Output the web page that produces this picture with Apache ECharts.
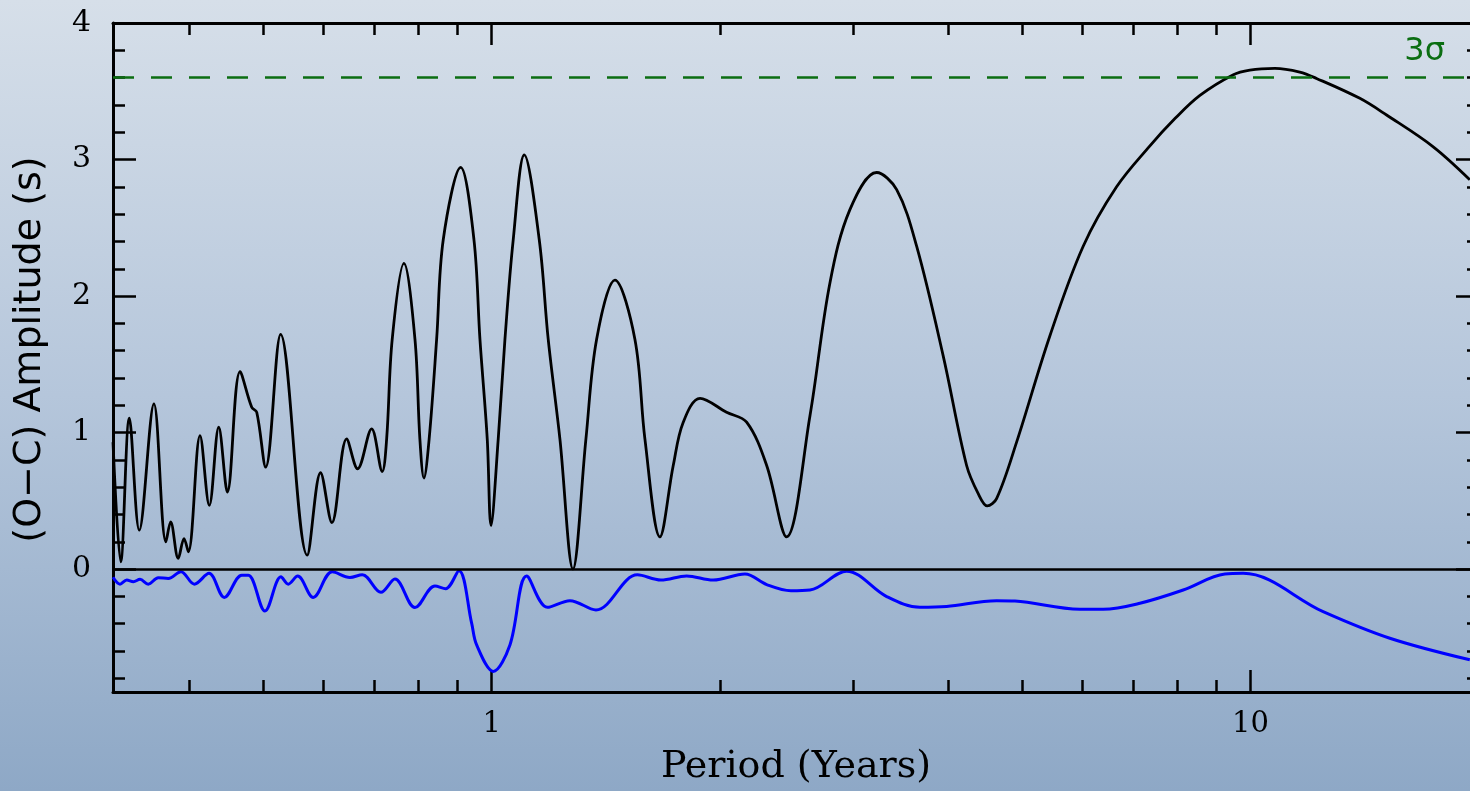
<!DOCTYPE html>
<html>
<head>
<meta charset="utf-8">
<script src="https://cdn.jsdelivr.net/npm/echarts@6/dist/echarts.min.js"></script>
<style>
  html, body { margin: 0; padding: 0; overflow: hidden; }
  /* the frame's right edge sits just past the visible window */
  #chart { width: 1482px; height: 791px; }
</style>
</head>
<body>
<div id="chart"></div>
<script>
// Periodogram of the O-C residuals: amplitude versus trial period (log scale)
const periodMain = [
  0.317, 0.3245, 0.3331, 0.3433, 0.3589, 0.3722, 0.3776, 0.3864, 0.3932, 0.3984,
  0.4128, 0.4246, 0.4369, 0.4485, 0.4661, 0.4829, 0.4903, 0.5038, 0.5272, 0.5714,
  0.5951, 0.6159, 0.6441, 0.6659, 0.6948, 0.7175, 0.7272, 0.7396, 0.7663, 0.7924,
  0.8043, 0.8143, 0.8273, 0.8463, 0.8635, 0.9103, 0.9477, 0.9651, 0.9867, 0.998,
  1.0202, 1.0412, 1.0677, 1.104, 1.1553, 1.1872, 1.2301, 1.2797, 1.3312, 1.3751,
  1.4537, 1.5444, 1.592, 1.666, 1.7349, 1.7884, 1.8818, 2.0397, 2.1677, 2.3036,
  2.447, 2.627, 2.7913, 2.9653, 3.2158, 3.4174, 3.6308, 3.9355, 4.2254, 4.3768,
  4.4979, 4.6275, 4.9174, 5.4392, 6.0186, 6.6602, 7.3688, 7.95, 8.5759, 9.4775, 9.979,
  10.765, 11.61, 12.216, 13.932, 15.109, 17.39, 19.45
];
const ampMain = [
  0.93, 0.054, 1.105, 0.285, 1.21, 0.20, 0.346, 0.078, 0.224, 0.127,
  0.978, 0.467, 1.039, 0.565, 1.447, 1.185, 1.149, 0.747, 1.72, 0.102,
  0.706, 0.341, 0.954, 0.735, 1.027, 0.715, 0.954, 1.684, 2.239, 1.684,
  0.954, 0.667, 0.954, 1.684, 2.414, 2.942, 2.414, 1.684, 0.954, 0.32,
  0.954, 1.684, 2.414, 3.034, 2.414, 1.684, 0.954, 0.0, 0.954, 1.684,
  2.117, 1.684, 0.954, 0.236, 0.759, 1.076, 1.251, 1.149, 1.076, 0.759,
  0.236, 1.124, 2.098, 2.633, 2.905, 2.779, 2.365, 1.562, 0.759, 0.553,
  0.463, 0.516, 0.93, 1.708, 2.365, 2.80, 3.10, 3.30, 3.47, 3.62, 3.655,
  3.667, 3.64, 3.594, 3.448, 3.326, 3.095, 2.852
];

// Residual periodogram, plotted downward below zero
const periodResid = [
  0.317, 0.3238, 0.3305, 0.3372, 0.3441, 0.3528, 0.3637, 0.3749, 0.3896, 0.4057,
  0.4242, 0.4444, 0.4685, 0.478, 0.5027, 0.5277, 0.5395, 0.5551, 0.5819, 0.6165,
  0.6505, 0.6753, 0.7147, 0.7457, 0.7924, 0.8419, 0.8697, 0.9056, 0.9411, 0.9555,
  1.0049, 1.0571, 1.112, 1.1843, 1.268, 1.3722, 1.5562, 1.6712, 1.8068, 1.9585,
  2.1566, 2.3036, 2.4796, 2.627, 2.9358, 3.3153, 3.6673, 3.9763, 4.6275, 4.8921,
  5.9587, 6.3937, 7.1488, 8.1524, 9.2501, 9.778, 12.463, 15.261, 19.45
];
const ampResid = [
  -0.06, -0.11, -0.08, -0.092, -0.075, -0.11, -0.063, -0.068, -0.019, -0.11,
  -0.031, -0.207, -0.044, -0.044, -0.307, -0.056, -0.11, -0.051, -0.207, -0.019,
  -0.061, -0.041, -0.17, -0.073, -0.282, -0.124, -0.143, -0.012, -0.396, -0.555,
  -0.749, -0.555, -0.051, -0.28, -0.231, -0.299, -0.042, -0.08, -0.05, -0.08,
  -0.036, -0.113, -0.158, -0.153, -0.015, -0.201, -0.28, -0.274, -0.231, -0.234,
  -0.294, -0.294, -0.25, -0.153, -0.036, -0.031, -0.311, -0.506, -0.664
];

const sigmaLevel = 3.6;
const periodRange = [0.317, 20];
const ampRange = [-0.9, 4];

const xMajorTicks = [1, 10];
const xMinorTicks = [0.4, 0.5, 0.6, 0.7, 0.8, 0.9, 2, 3, 4, 5, 6, 7, 8, 9];
const yMajorTicks = [0, 1, 2, 3, 4];
const yMinorTicks = [-0.8, -0.6, -0.4, -0.2, 0.2, 0.4, 0.6, 0.8, 1.2, 1.4, 1.6, 1.8,
  2.2, 2.4, 2.6, 2.8, 3.2, 3.4, 3.6, 3.8];

const zip = (xs, ys) => xs.map((x, i) => [x, ys[i]]);

const chart = echarts.init(document.getElementById('chart'), null, { renderer: 'canvas' });

const serifFont = "'DejaVu Serif', 'Liberation Serif', serif";
const sansFont = "'DejaVu Sans', 'Liberation Sans', sans-serif";
const ink = '#000000';
const green = '#0b6e12';

function xAxisDef(position, ticks, len, withLine, withLabels, extra) {
  return Object.assign({
    type: 'log',
    logBase: 10,
    min: periodRange[0],
    max: periodRange[1],
    position: position,
    axisLine: { show: withLine, onZero: false, lineStyle: { color: ink, width: 3 } },
    axisTick: { show: true, inside: true, length: len, customValues: ticks,
      lineStyle: { color: ink, width: 2.5 } },
    axisLabel: withLabels ? {
      show: true, customValues: ticks, margin: 18, color: ink,
      fontFamily: serifFont, fontSize: 29
    } : { show: false },
    splitLine: { show: false },
    minorTick: { show: false },
    minorSplitLine: { show: false }
  }, extra || {});
}

function yAxisDef(position, ticks, len, withLine, withLabels, extra) {
  return Object.assign({
    type: 'value',
    min: ampRange[0],
    max: ampRange[1],
    position: position,
    axisLine: { show: withLine, onZero: false, lineStyle: { color: ink, width: 3 } },
    axisTick: { show: true, inside: true, length: len, customValues: ticks,
      lineStyle: { color: ink, width: 2.5 } },
    axisLabel: withLabels ? {
      show: true, customValues: ticks, margin: 22, color: ink,
      fontFamily: serifFont, fontSize: 30
    } : { show: false },
    splitLine: { show: false }
  }, extra || {});
}

const option = {
  animation: false,
  backgroundColor: {
    type: 'linear', x: 0, y: 0, x2: 0, y2: 1,
    colorStops: [
      { offset: 0, color: '#d6dfe9' },
      { offset: 0.5, color: '#b5c6db' },
      { offset: 1, color: '#8ea8c6' }
    ]
  },
  grid: { left: 113, top: 23, right: 3, bottom: 97, containLabel: false },
  xAxis: [
    xAxisDef('bottom', xMajorTicks, 22, true, true, {
      name: 'Period (Years)',
      nameLocation: 'middle',
      nameGap: 56,
      nameTextStyle: { color: ink, fontFamily: serifFont, fontSize: 38 }
    }),
    xAxisDef('bottom', xMinorTicks, 12, false, false),
    xAxisDef('top', xMajorTicks, 22, true, false),
    xAxisDef('top', xMinorTicks, 12, false, false)
  ],
  yAxis: [
    yAxisDef('left', yMajorTicks, 23, true, true, {
      name: '(O\u2212C) Amplitude (s)',
      nameLocation: 'middle',
      nameGap: 64,
      nameRotate: 90,
      nameTextStyle: { color: ink, fontFamily: sansFont, fontSize: 38, padding: [0, 0, 0, 16] }
    }),
    yAxisDef('left', yMinorTicks, 12, false, false),
    yAxisDef('right', yMajorTicks, 23, true, false),
    yAxisDef('right', yMinorTicks, 12, false, false)
  ],
  series: [
    {
      name: 'O-C',
      type: 'line',
      xAxisIndex: 0,
      yAxisIndex: 0,
      data: zip(periodMain, ampMain),
      smooth: 0.35,
      showSymbol: false,
      clip: true,
      lineStyle: { color: ink, width: 2.8 },
      markLine: {
        silent: true,
        symbol: 'none',
        data: [
          {
            yAxis: sigmaLevel,
            lineStyle: { color: green, width: 2.6, type: [21, 17] },
            label: {
              show: true, formatter: '3\u03c3', position: 'insideEndTop',
              distance: [34, 10], color: green, fontFamily: sansFont, fontSize: 32
            }
          },
          {
            yAxis: 0,
            lineStyle: { color: ink, width: 2.6, type: 'solid' },
            label: { show: false }
          }
        ]
      }
    },
    {
      name: 'Residual',
      type: 'line',
      xAxisIndex: 0,
      yAxisIndex: 0,
      data: zip(periodResid, ampResid),
      smooth: 0.35,
      showSymbol: false,
      clip: true,
      lineStyle: { color: '#0000ff', width: 3 }
    }
  ]
};

chart.setOption(option);
</script>
</body>
</html>
